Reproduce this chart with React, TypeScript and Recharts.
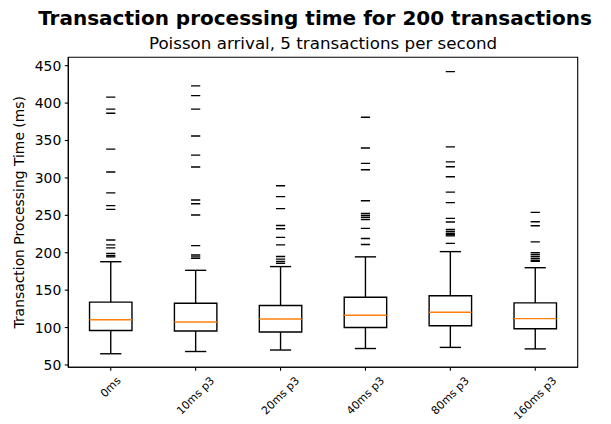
import React from 'react';
import { ComposedChart, Scatter, XAxis, YAxis, ReferenceArea, ReferenceLine } from 'recharts';

const categories = ['0ms', '10ms p3', '20ms p3', '40ms p3', '80ms p3', '160ms p3'];
const whiskerLow = [65, 68, 70, 72, 73.5, 71.5];
const q1 = [96, 95.5, 94, 100, 102.5, 98.5];
const median = [110.5, 107.5, 111.5, 116.5, 120.5, 112];
const q3 = [134, 132.5, 129.5, 140.5, 142.5, 133];
const whiskerHigh = [188, 176.5, 181.5, 194.5, 201.5, 180];

const outliers0 = [408, 392, 386.5, 338.5, 308, 280, 263, 258, 217, 210.5, 206.5, 199, 196, 194.5];
const outliers10 = [423, 410, 392, 356, 330.5, 314.5, 270.5, 265.5, 250.5, 209.5, 197, 194.5, 192.5];
const outliers20 = [289.5, 275, 259, 236.5, 232, 220.5, 210.5, 195, 191.5, 188.5, 186];
const outliers40 = [381, 340, 319.5, 311, 269.5, 252.5, 250, 247.5, 244.5, 232.5, 219, 211];
const outliers80 = [442, 341.5, 321.5, 315, 301.5, 281, 267, 246, 241, 231, 228.5, 226, 224, 222.5, 212.5];
const outliers160 = [254, 241.5, 236, 214.5, 200, 197.5, 195, 192.5, 190, 188.5];

const yTicks = [50, 100, 150, 200, 250, 300, 350, 400, 450];
const xTicks = [1, 2, 3, 4, 5, 6];

const outlierSets = [outliers0, outliers10, outliers20, outliers40, outliers80, outliers160];
const outlierData = outlierSets.flatMap((arr, i) => arr.map((v) => ({ x: i + 1, y: v })));

const Y_MIN = 46.9;
const Y_MAX = 461.2;
const FONT = '"DejaVu Sans", sans-serif';
const BOX_HALF = 0.25;
const CAP_HALF = 0.125;
const LW = 1.39;

let measureCtx: CanvasRenderingContext2D | null = null;
function measure(text: string, font: string): number {
  if (!measureCtx) {
    const c = document.createElement('canvas');
    measureCtx = c.getContext('2d');
  }
  if (!measureCtx) return text.length * 6.5;
  measureCtx.font = font;
  return measureCtx.measureText(text).width;
}

const XTick = (props: any) => {
  const { x, y, payload } = props;
  const label = categories[Math.round(payload.value) - 1] ?? '';
  const fs = 11;
  const w = measure(label, `${fs}px "DejaVu Sans"`);
  const h = fs * 1.164;
  const cy = y + (w + h) * 0.3536;
  return (
    <text
      x={x}
      y={cy}
      textAnchor="middle"
      dominantBaseline="central"
      transform={`rotate(-45, ${x}, ${cy})`}
      fontFamily={FONT}
      fontSize={fs}
      fill="#000"
    >
      {label}
    </text>
  );
};

const DashShape = (props: any) => {
  const { cx, cy } = props;
  if (cx == null || cy == null) return null;
  return <line x1={cx - 4.6} x2={cx + 4.6} y1={cy} y2={cy} stroke="#000" strokeWidth={LW} />;
};

export default function App() {
  return (
    <div style={{ position: 'absolute', left: 0, top: 0, width: 611, height: 424, background: '#fff' }}>
      <ComposedChart
        width={611}
        height={424}
        margin={{ top: 57.3, right: 33.3, bottom: 6.7, left: 8.3 }}
      >
        <XAxis
          type="number"
          dataKey="x"
          domain={[0.5, 6.5]}
          ticks={xTicks}
          allowDataOverflow
          height={50}
          tickSize={3.5}
          tickMargin={3.5}
          stroke="#000"
          strokeWidth={1.1}
          tickLine={{ stroke: '#000', strokeWidth: 1.1 }}
          tick={<XTick />}
          interval={0}
        />
        <YAxis
          type="number"
          dataKey="y"
          domain={[Y_MIN, Y_MAX]}
          ticks={yTicks}
          allowDataOverflow
          width={60}
          tickSize={3.5}
          tickMargin={3.5}
          stroke="#000"
          strokeWidth={1.1}
          tickLine={{ stroke: '#000', strokeWidth: 1.1 }}
          tick={{ fontFamily: FONT, fontSize: 13.9, fill: '#000' }}
          interval={0}
        />
        <ReferenceArea x1={0.5} x2={6.5} y1={Y_MIN} y2={Y_MAX} fill="none" stroke="#000" strokeWidth={1.1} ifOverflow="visible" />
        {categories.map((c, i) => (
          <ReferenceArea
            key={`box-${c}`}
            x1={i + 1 - BOX_HALF}
            x2={i + 1 + BOX_HALF}
            y1={q1[i]}
            y2={q3[i]}
            fill="none"
            fillOpacity={0}
            stroke="#000"
            strokeWidth={LW}
            ifOverflow="visible"
          />
        ))}
        {categories.map((c, i) => (
          <ReferenceLine
            key={`lw-${c}`}
            segment={[{ x: i + 1, y: whiskerLow[i] }, { x: i + 1, y: q1[i] }]}
            stroke="#000"
            strokeWidth={LW}
            ifOverflow="visible"
          />
        ))}
        {categories.map((c, i) => (
          <ReferenceLine
            key={`hw-${c}`}
            segment={[{ x: i + 1, y: q3[i] }, { x: i + 1, y: whiskerHigh[i] }]}
            stroke="#000"
            strokeWidth={LW}
            ifOverflow="visible"
          />
        ))}
        {categories.map((c, i) => (
          <ReferenceLine
            key={`lc-${c}`}
            segment={[{ x: i + 1 - CAP_HALF, y: whiskerLow[i] }, { x: i + 1 + CAP_HALF, y: whiskerLow[i] }]}
            stroke="#000"
            strokeWidth={LW}
            ifOverflow="visible"
          />
        ))}
        {categories.map((c, i) => (
          <ReferenceLine
            key={`hc-${c}`}
            segment={[{ x: i + 1 - CAP_HALF, y: whiskerHigh[i] }, { x: i + 1 + CAP_HALF, y: whiskerHigh[i] }]}
            stroke="#000"
            strokeWidth={LW}
            ifOverflow="visible"
          />
        ))}
        {categories.map((c, i) => (
          <ReferenceLine
            key={`med-${c}`}
            segment={[{ x: i + 1 - BOX_HALF, y: median[i] }, { x: i + 1 + BOX_HALF, y: median[i] }]}
            stroke="#ff7f0e"
            strokeWidth={LW}
            ifOverflow="visible"
          />
        ))}
        <Scatter data={outlierData} dataKey="y" shape={<DashShape />} isAnimationActive={false} />
      </ComposedChart>
      <svg
        width={611}
        height={424}
        style={{ position: 'absolute', left: 0, top: 0, pointerEvents: 'none' }}
      >
        <text x={315} y={25} textAnchor="middle" fontFamily={FONT} fontWeight="bold" fontSize={20} fill="#000">
          Transaction processing time for 200 transactions
        </text>
        <text x={323} y={48.5} textAnchor="middle" fontFamily={FONT} fontSize={16.7} fill="#000">
          Poisson arrival, 5 transactions per second
        </text>
        <text
          x={19}
          y={212.3}
          textAnchor="middle"
          dominantBaseline="central"
          transform="rotate(-90, 19, 212.3)"
          fontFamily={FONT}
          fontSize={13.9}
          fill="#000"
        >
          Transaction Processing Time (ms)
        </text>
      </svg>
    </div>
  );
}
